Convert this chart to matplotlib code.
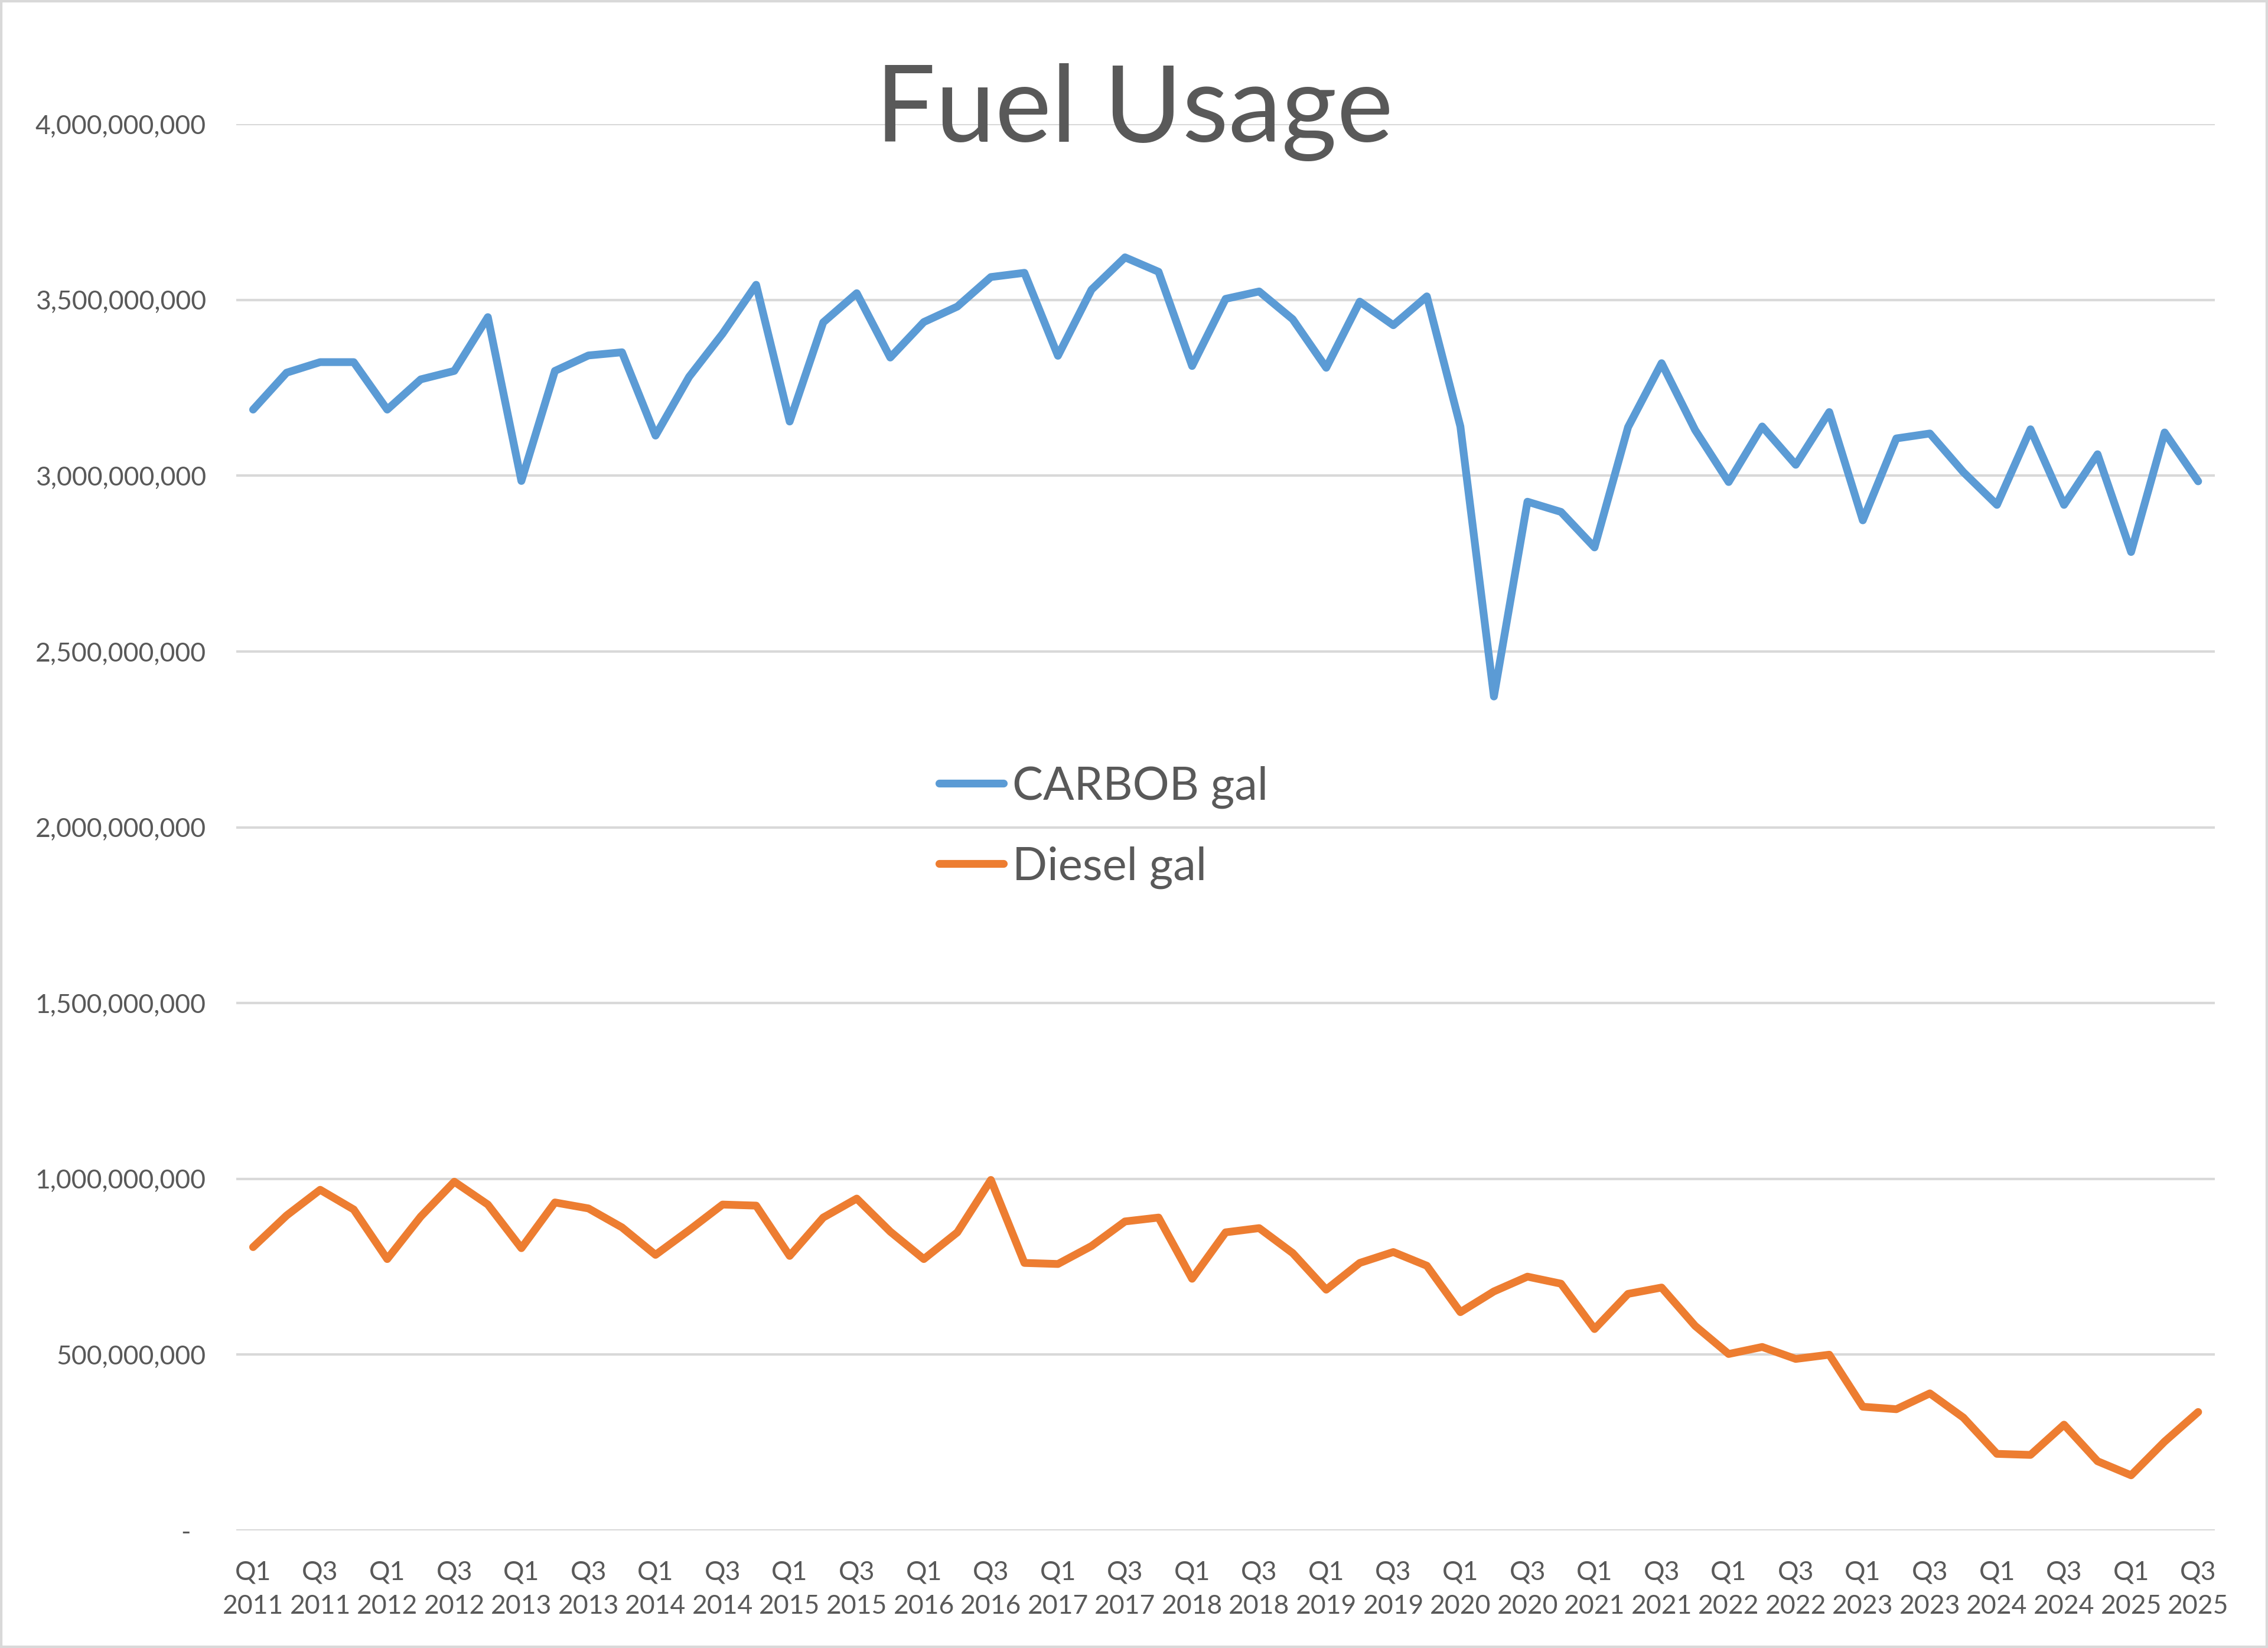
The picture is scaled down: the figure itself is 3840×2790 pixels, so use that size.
import numpy as np
import matplotlib
matplotlib.use("Agg")
from matplotlib import pyplot as plt
from matplotlib.patches import Rectangle
from matplotlib.ticker import FuncFormatter

# quarterly fuel usage, Q1 2011 .. Q3 2025 (gallons)
years = [y for y in range(2011, 2026) for q in range(4)][:59]
quarters = ["Q%d" % (q + 1) for y in range(2011, 2026) for q in range(4)][:59]

carbob_gal = [3.188e9, 3.293e9, 3.323e9, 3.323e9,
              3.188e9, 3.274e9, 3.298e9, 3.451e9,
              2.985e9, 3.298e9, 3.342e9, 3.351e9,
              3.114e9, 3.281e9, 3.404e9, 3.543e9,
              3.154e9, 3.436e9, 3.519e9, 3.336e9,
              3.437e9, 3.481e9, 3.565e9, 3.577e9,
              3.341e9, 3.529e9, 3.621e9, 3.580e9,
              3.312e9, 3.503e9, 3.524e9, 3.445e9,
              3.307e9, 3.495e9, 3.428e9, 3.510e9,
              3.140e9, 2.372e9, 2.926e9, 2.897e9,
              2.796e9, 3.138e9, 3.320e9, 3.130e9,
              2.982e9, 3.140e9, 3.031e9, 3.181e9,
              2.873e9, 3.106e9, 3.120e9, 3.010e9,
              2.917e9, 3.132e9, 2.917e9, 3.061e9,
              2.783e9, 3.123e9, 2.984e9]

diesel_gal = [0.806e9, 0.896e9, 0.969e9, 0.913e9,
              0.772e9, 0.893e9, 0.992e9, 0.927e9,
              0.803e9, 0.933e9, 0.916e9, 0.862e9,
              0.784e9, 0.854e9, 0.927e9, 0.924e9,
              0.781e9, 0.890e9, 0.944e9, 0.850e9,
              0.772e9, 0.848e9, 0.997e9, 0.761e9,
              0.758e9, 0.809e9, 0.879e9, 0.890e9,
              0.716e9, 0.848e9, 0.860e9, 0.789e9,
              0.685e9, 0.761e9, 0.792e9, 0.753e9,
              0.621e9, 0.680e9, 0.722e9, 0.702e9,
              0.573e9, 0.673e9, 0.691e9, 0.582e9,
              0.502e9, 0.522e9, 0.488e9, 0.500e9,
              0.352e9, 0.345e9, 0.390e9, 0.321e9,
              0.218e9, 0.215e9, 0.301e9, 0.197e9,
              0.157e9, 0.253e9, 0.337e9]

cat_labels = ["%s\n%d" % (q, y) for q, y in zip(quarters, years)]

plt.rcParams['font.family'] = ['Lato', 'DejaVu Sans']
txt_col = '#595959'
grid_col = '#d9d9d9'

fig = plt.figure(figsize=(38.4, 27.9), dpi=100)
ax = fig.add_axes([0.1042, 0.0713, 0.8724, 0.8534])

x = np.arange(len(carbob_gal))
ax.plot(x, carbob_gal, color='#5B9BD5', lw=9.5, solid_joinstyle='round',
        solid_capstyle='round', label='CARBOB gal', zorder=3)
ax.plot(x, diesel_gal, color='#ED7D31', lw=9.5, solid_joinstyle='round',
        solid_capstyle='round', label='Diesel gal', zorder=3)

ax.set_xlim(-0.5, len(x) - 0.5)
ax.set_ylim(0, 4e9)
ax.set_yticks(np.arange(0, 4.01e9, 5e8))
ax.yaxis.set_major_formatter(FuncFormatter(lambda v, p: "-" if v == 0 else "{:,.0f}".format(v)))
ax.grid(axis='y', color=grid_col, lw=3)
ax.set_axisbelow(True)

ax.set_xticks(x[::2])
ax.set_xticklabels(cat_labels[::2], linespacing=1.5)

for s in ax.spines.values():
    s.set_visible(False)
ax.tick_params(axis='both', length=0, labelsize=32, labelcolor=txt_col)
ax.tick_params(axis='y', pad=37)
ax.tick_params(axis='x', pad=36)
ax.yaxis.get_major_ticks()[0].set_pad(56)

fig.text(0.5, 0.914, "Fuel Usage", ha='center', va='baseline',
         fontsize=130, color=txt_col)

leg = fig.legend(loc='center left', bbox_to_anchor=(0.414, 0.498), frameon=False,
                 fontsize=56, handlelength=1.4, handletextpad=0.2,
                 labelspacing=0.82, borderpad=0, borderaxespad=0)
for t in leg.get_texts():
    t.set_color(txt_col)
for h in leg.get_lines():
    h.set_linewidth(9.5)

fig.patches.append(Rectangle((0, 0), 1, 1, transform=fig.transFigure, fill=False,
                             edgecolor=grid_col, lw=6))

fig.savefig("out.png", dpi=100)
